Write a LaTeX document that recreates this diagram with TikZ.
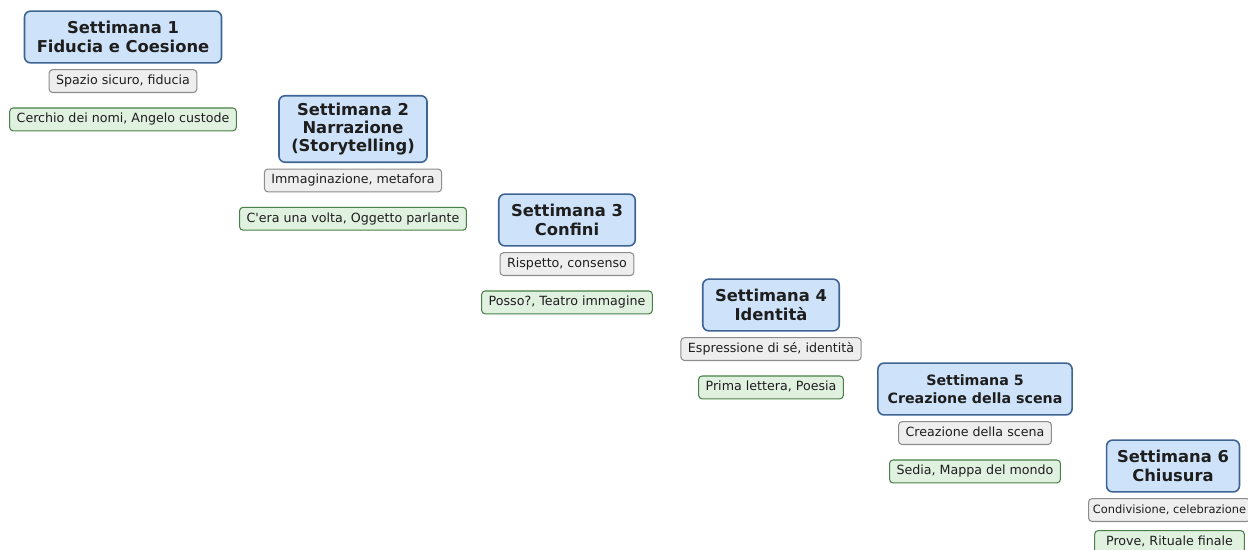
\documentclass[tikz,border=0pt]{standalone}
\usepackage{fontspec}
\setmainfont{DejaVu Sans}
\usetikzlibrary{positioning}

\definecolor{weekfill}{RGB}{206,226,249}
\definecolor{weekline}{RGB}{62,100,148}
\definecolor{themefill}{RGB}{238,238,238}
\definecolor{themeline}{RGB}{140,140,140}
\definecolor{gamefill}{RGB}{224,241,224}
\definecolor{gameline}{RGB}{72,128,72}
\definecolor{inkgray}{RGB}{30,30,30}

\begin{document}
\begin{tikzpicture}[x=0.02cm, y=-0.02cm,
		week/.style={draw=weekline, fill=weekfill, line width=0.9pt, rounded corners=3.5pt,
			align=center, text=inkgray, font=\bfseries\fontsize{9.3}{10.4}\selectfont,
			inner xsep=7pt, inner ysep=4pt, minimum height=29.5pt},
		theme/.style={draw=themeline, fill=themefill, line width=0.6pt, rounded corners=2pt,
			text=inkgray, font=\fontsize{7.2}{8}\selectfont,
			inner xsep=4pt, inner ysep=2.9pt, text height=5.6pt, text depth=1.6pt},
		game/.style={theme, draw=gameline, fill=gamefill}]
			\useasboundingbox (0, 0) rectangle (1248, 550);
			\clip (0, 0) rectangle (1248, 550);
			
			% weeks
			\node[week] (w1) at (123, 37) {Settimana 1\\Fiducia e Coesione};
			\node[week] (w2) at (353, 129) {Settimana 2\\Narrazione\\(Storytelling)};
			\node[week] (w3) at (567, 220) {Settimana 3\\Confini};
			\node[week] (w4) at (771, 305) {Settimana 4\\Identità};
			\node[week, font=\bfseries\fontsize{8.1}{10.4}\selectfont, inner xsep=5.5pt] (w5) at (975, 389) {Settimana 5\\Creazione della scena};
			\node[week, inner xsep=6pt] (w6) at (1173, 466) {Settimana 6\\Chiusura};
			
			% themes
			\node[theme, below=3.1pt of w1] (t1) {Spazio sicuro, fiducia};
			\node[theme, below=3.1pt of w2] (t2) {Immaginazione, metafora};
			\node[theme, below=3.1pt of w3] (t3) {Rispetto, consenso};
			\node[theme, below=3.1pt of w4] (t4) {Espressione di sé, identità};
			\node[theme, below=3.1pt of w5] (t5) {Creazione della scena};
			\node[theme, below=3.1pt of w6, xshift=-2pt, font=\fontsize{6.5}{8}\selectfont, inner xsep=2.5pt] (t6) {Condivisione, celebrazione};
			
			% activities
			\node[game, below=8.2pt of t1] (g1) {Cerchio dei nomi, Angelo custode};
			\node[game, below=8.2pt of t2] (g2) {C\textquotesingle era una volta, Oggetto parlante};
			\node[game, below=8.2pt of t3] (g3) {Posso?, Teatro immagine};
			\node[game, below=8.2pt of t4] (g4) {Prima lettera, Poesia};
			\node[game, below=8.2pt of t5] (g5) {Sedia, Mappa del mondo};
			\node[game, below=4.6pt of t6, inner xsep=6.5pt] (g6) {Prove, Rituale finale};
			
		\end{tikzpicture}
\end{document}
